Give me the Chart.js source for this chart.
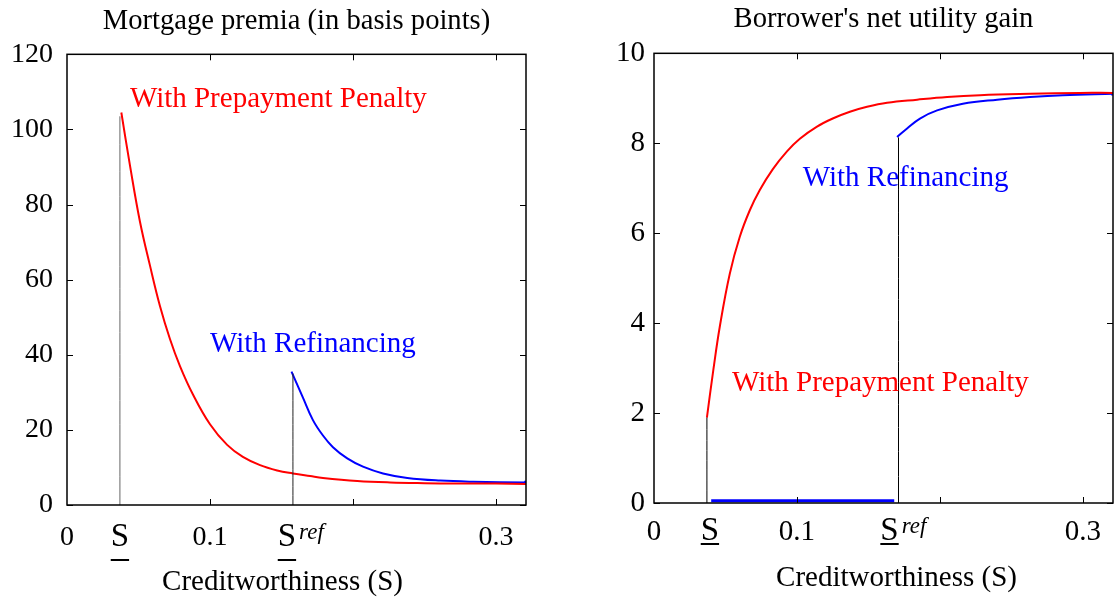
<!DOCTYPE html>
<html>
<head>
<meta charset="utf-8">
<script src="https://cdn.jsdelivr.net/npm/chart.js@4.4.1/dist/chart.umd.min.js"></script>
<style>
  body { margin: 0; background: #fff; }
  #wrap { position: relative; width: 1114px; height: 606px; }
  canvas { position: absolute; top: 0; }
</style>
</head>
<body>
<div id="wrap">
  <canvas id="premia" width="545" height="606" style="left:0"></canvas>
  <canvas id="utility" width="554" height="606" style="left:560px"></canvas>
</div>
<script>
// Left panel: mortgage premia (basis points)
const premiaS = 0.037;
const premiaSref = 0.158;
const premiaPenaltyX = [0.038, 0.044, 0.051, 0.058, 0.065, 0.072, 0.079, 0.088, 0.100, 0.112, 0.123, 0.135, 0.147, 0.158, 0.170, 0.179, 0.203, 0.226, 0.250, 0.272, 0.300, 0.321];
const premiaPenaltyY = [104.5, 90.5, 75.5, 63.8, 53.0, 44.2, 37.0, 29.5, 21.5, 16.0, 12.8, 10.6, 9.2, 8.4, 7.7, 7.2, 6.4, 6.0, 5.8, 5.7, 5.7, 5.6];
const premiaRefiX = [0.157, 0.165, 0.172, 0.179, 0.186, 0.196, 0.207, 0.221, 0.238, 0.261, 0.284, 0.321];
const premiaRefiY = [35.5, 28.6, 22.6, 18.5, 15.4, 12.4, 10.2, 8.4, 7.2, 6.5, 6.2, 6.0];
const premiaYTicks = [0, 20, 40, 60, 80, 100, 120];

// Right panel: borrower's net utility gain
const utilS = 0.037;
const utilSref = 0.171;
const utilPenaltyX = [0.037, 0.0415, 0.046, 0.053, 0.060, 0.067, 0.074, 0.083, 0.093, 0.102, 0.114, 0.125, 0.137, 0.149, 0.163, 0.184, 0.205, 0.228, 0.263, 0.298, 0.321];
const utilPenaltyY = [1.9, 2.96, 3.92, 5.10, 5.92, 6.51, 6.96, 7.42, 7.82, 8.10, 8.37, 8.55, 8.70, 8.81, 8.90, 8.97, 9.03, 9.07, 9.10, 9.12, 9.12];
const utilRefiLowX = [0.040, 0.168];
const utilRefiLowY = [0.05, 0.05];
const utilRefiX = [0.170, 0.177, 0.186, 0.198, 0.216, 0.240, 0.263, 0.286, 0.321];
const utilRefiY = [8.14, 8.33, 8.55, 8.73, 8.88, 8.97, 9.03, 9.07, 9.10];
const utilYTicks = [0, 2, 4, 6, 8, 10];

// shared x axis
const xMax = 0.321;
const xNumTicks = [0, 0.1, 0.3];
const xTickText = ['0', '0.1', '0.3'];
const xMarks = [0.1, 0.2, 0.3];
const xTitle = 'Creditworthiness (S)';

const SERIF = "'Liberation Serif', 'Times New Roman', serif";

Chart.defaults.font.family = SERIF;
Chart.defaults.color = '#000';

function pts(xs, ys) {
    return xs.map((x, i) => ({ x: x, y: ys[i] }));
}

// small square only on the last point of a curve
function endMarker(ctx) {
    return ctx.dataIndex === ctx.dataset.data.length - 1 ? 2.5 : 0;
}

// Helper plugin: box, inward ticks, S labels, axis title and annotations
const framePlugin = {
    id: 'frame',
    afterDraw(chart, args, o) {
        const { ctx, chartArea: a, scales: { x, y } } = chart;
        ctx.save();
        ctx.strokeStyle = '#000';
        ctx.lineWidth = 1.5;
        ctx.strokeRect(a.left, a.top, a.right - a.left, a.bottom - a.top);

        // inward tick marks
        ctx.lineWidth = 1;
        ctx.beginPath();
        y.ticks.forEach(t => {
            const py = Math.round(y.getPixelForValue(t.value)) + 0.5;
            ctx.moveTo(a.left, py); ctx.lineTo(a.left + 6, py);
            ctx.moveTo(a.right, py); ctx.lineTo(a.right - 6, py);
        });
        xMarks.forEach(v => {
            const px = Math.round(x.getPixelForValue(v)) + 0.5;
            ctx.moveTo(px, a.bottom); ctx.lineTo(px, a.bottom - 6);
            ctx.moveTo(px, a.top); ctx.lineTo(px, a.top + 6);
        });
        ctx.stroke();

        // underlined S labels
        ctx.fillStyle = '#000';
        ctx.textBaseline = 'middle';
        o.sLabels.forEach(s => {
            const cx = x.getPixelForValue(s.value) + s.dx;
            const cy = a.bottom + o.sMid;
            ctx.font = '33px ' + SERIF;
            ctx.textAlign = 'center';
            ctx.fillText('S', cx, cy);
            const w = ctx.measureText('S').width;
            ctx.fillRect(cx - w / 2, cy + o.ulGap, w, 2);
            if (s.sup) {
                ctx.font = 'italic 23px ' + SERIF;
                ctx.textAlign = 'left';
                ctx.textBaseline = 'alphabetic';
                ctx.fillText(s.sup, cx + w / 2 + 3, cy + 2);
                ctx.textBaseline = 'middle';
            }
        });

        // x axis title
        ctx.font = '29px ' + SERIF;
        ctx.textAlign = 'center';
        ctx.fillText(xTitle, (a.left + a.right) / 2 + o.titleDx, o.titleY);

        // annotations
        ctx.textAlign = 'left';
        ctx.textBaseline = 'alphabetic';
        o.notes.forEach(n => {
            ctx.fillStyle = n.color;
            ctx.fillText(n.text, x.getPixelForValue(n.x), y.getPixelForValue(n.y));
        });
        ctx.restore();
    }
};

function buildChart(canvasId, cfg) {
    return new Chart(document.getElementById(canvasId), {
        type: 'line',
        data: { datasets: cfg.datasets },
        options: {
            responsive: false,
            animation: false,
            devicePixelRatio: 1,
            layout: { autoPadding: false, padding: { left: 0, right: cfg.padRight, top: 0, bottom: 0 } },
            elements: { point: { radius: 0 }, line: { tension: 0.4 } },
            plugins: {
                legend: { display: false },
                tooltip: { enabled: false },
                title: {
                    display: true,
                    text: cfg.title,
                    fullSize: false,
                    font: { size: 28.6, weight: 'normal' },
                    padding: cfg.titlePad,
                },
                frame: cfg.frame,
            },
            scales: {
                x: {
                    type: 'linear',
                    min: 0,
                    max: xMax,
                    grid: { display: false, drawTicks: false },
                    border: { display: false },
                    afterBuildTicks: (scale) => {
                        scale.ticks = xNumTicks.map(v => ({ value: v }));
                    },
                    afterFit: (scale) => { scale.height = cfg.xHeight; },
                    ticks: {
                        autoSkip: false,
                        maxRotation: 0,
                        padding: cfg.xPad,
                        font: { size: cfg.tickSize },
                        callback: (v, i) => xTickText[i],
                    },
                },
                y: {
                    min: cfg.yTicks[0],
                    max: cfg.yTicks[cfg.yTicks.length - 1],
                    grid: { display: false, drawTicks: false },
                    border: { display: false },
                    afterBuildTicks: (scale) => {
                        scale.ticks = cfg.yTicks.map(v => ({ value: v }));
                    },
                    afterFit: (scale) => { scale.width = cfg.yWidth; },
                    ticks: { padding: cfg.yPad, font: { size: cfg.tickSize } },
                },
            },
        },
        plugins: [framePlugin],
    });
}

const blueEnd = { pointRadius: endMarker, pointStyle: 'rect', pointBackgroundColor: '#0000ff', pointBorderWidth: 0 };

buildChart('premia', {
    title: 'Mortgage premia (in basis points)',
    titlePad: { top: 4, bottom: 16 },
    padRight: 19,
    xHeight: 101,
    xPad: 16,
    yWidth: 67,
    yPad: 14,
    tickSize: 28,
    yTicks: premiaYTicks,
    frame: {
        sMid: 32, ulGap: 22, titleDx: -14, titleY: 582,
        sLabels: [{ value: premiaS, dx: 0 }, { value: premiaSref, dx: -6, sup: 'ref' }],
        notes: [
            { text: 'With Prepayment Penalty', color: '#ff0000', x: 0.044, y: 105.9 },
            { text: 'With Refinancing', color: '#0000ff', x: 0.100, y: 40.7 },
        ],
    },
    datasets: [
        { data: pts([premiaS, premiaS], [0, 103.5]), borderColor: '#666', borderWidth: 1 },
        { data: pts([premiaSref, premiaSref], [0, 35]), borderColor: '#222', borderWidth: 1 },
        { data: pts(premiaPenaltyX, premiaPenaltyY), borderColor: '#ff0000', borderWidth: 2 },
        Object.assign({ data: pts(premiaRefiX, premiaRefiY), borderColor: '#0000ff', borderWidth: 2 }, blueEnd),
    ],
});

buildChart('utility', {
    title: "Borrower's net utility gain",
    titlePad: { top: 2, bottom: 17 },
    padRight: 1,
    xHeight: 103,
    xPad: 12,
    yWidth: 94,
    yPad: 9,
    tickSize: 29,
    yTicks: utilYTicks,
    frame: {
        sMid: 28, ulGap: 12, titleDx: 13, titleY: 578,
        sLabels: [{ value: utilS, dx: 3 }, { value: utilSref, dx: -9, sup: 'ref' }],
        notes: [
            { text: 'With Refinancing', color: '#0000ff', x: 0.104, y: 7.04 },
            { text: 'With Prepayment Penalty', color: '#ff0000', x: 0.0545, y: 2.49 },
        ],
    },
    datasets: [
        { data: pts([utilS, utilS], [0, 1.9]), borderColor: '#000', borderWidth: 1 },
        { data: pts([utilSref, utilSref], [0, 8.13]), borderColor: '#000', borderWidth: 1 },
        { data: pts(utilPenaltyX, utilPenaltyY), borderColor: '#ff0000', borderWidth: 2 },
        { data: pts(utilRefiLowX, utilRefiLowY), borderColor: '#0000ff', borderWidth: 3 },
        Object.assign({ data: pts(utilRefiX, utilRefiY), borderColor: '#0000ff', borderWidth: 2 }, blueEnd),
    ],
});
</script>
</body>
</html>
